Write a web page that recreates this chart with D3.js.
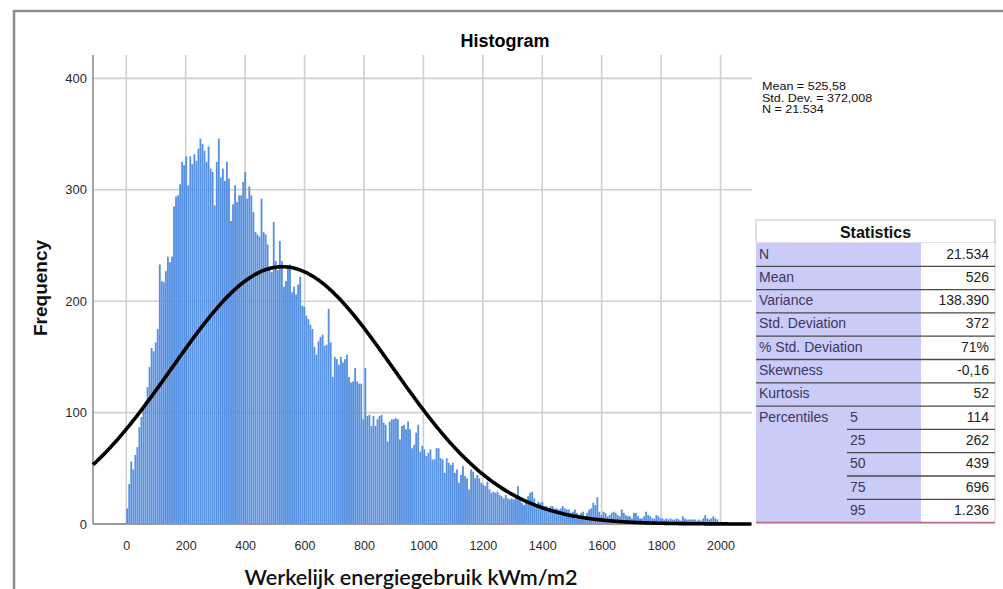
<!DOCTYPE html>
<html>
<head>
<meta charset="utf-8">
<script src="https://cdn.jsdelivr.net/npm/d3@7"></script>
<style>
  html, body { margin: 0; padding: 0; background: #fff; }
  svg { display: block; }
</style>
</head>
<body>
<script>
// ---------------- DATA ----------------
const binStart = 0;
const binWidth = 6.85;
// frequency of each bin
const counts = [
  14, 36, 56, 49, 62, 69, 87, 96, 104, 110, 123, 141, 158, 155, 163, 175, 233, 218, 217, 227,
  240, 235, 240, 285, 294, 295, 305, 325, 322, 330, 304, 330, 323, 332, 326, 337, 346, 341, 335, 325,
  339, 319, 316, 286, 325, 346, 311, 319, 308, 325, 310,
  272, 287, 304, 289, 295, 295, 307, 316, 292, 303, 295, 280, 262, 260, 258, 292, 262, 260, 251, 229,
  226, 271, 236, 228, 254, 236, 213, 218, 232, 233, 208, 213, 206, 215, 222, 196, 195, 187, 184, 179,
  175, 159, 152, 164, 168, 170, 160, 161, 193, 163, 132, 150, 148, 143, 150, 145, 148, 152, 132, 127,
  128, 140, 128, 126, 126, 94, 140, 97, 98, 88, 97, 88, 94, 97, 98, 91, 89, 74, 92, 94,
  94, 95, 94, 76, 88, 89, 85, 92, 85, 68, 71, 82, 89, 65, 70, 67, 61, 64, 67, 58,
  58, 68, 68, 59, 58, 46, 59, 55, 53, 55, 46, 49, 37, 44, 52, 43, 41, 31, 49, 47,
  41, 44, 41, 37, 35, 34, 38, 31, 28, 29, 28, 29, 26, 25, 23, 26, 23, 22, 23, 22,
  25, 34, 23, 19, 17, 20, 25, 28, 29, 23, 17, 20, 19, 20, 16, 16, 13, 16, 16, 14,
  14, 13, 14, 16, 14, 13, 13, 10, 11, 13, 10, 8, 10, 11, 7,
  10, 13, 14, 19, 17, 24, 11, 8, 11, 10, 7, 8, 10, 11, 10, 8, 7, 13, 10, 8,
  7, 7, 5, 10, 10, 7, 5, 5, 7, 11, 8, 7, 5, 5, 8, 7, 5, 5, 4, 5,
  4, 5, 4, 4, 5, 4, 3, 7, 5, 4, 4, 4, 4, 4, 3, 4, 3, 5, 8, 5,
  4, 5, 7, 5, 4
];
const xTicks = [0, 200, 400, 600, 800, 1000, 1200, 1400, 1600, 1800, 2000];
const yTicks = [0, 100, 200, 300, 400];
const xDomain = [-112, 2106];
const yDomain = [0, 421];

const mean = 525.58;
const stdDev = 372.008;
const nTotal = 21534;
const curveBinWidth = 10;
const legendLines = ["Mean = 525,58", "Std. Dev. = 372,008", "N = 21.534"];

const chartTitle = "Histogram";
const xTitle = "Werkelijk energiegebruik kWm/m2";
const yTitle = "Frequency";

const tableTitle = "Statistics";
const statLabels = ["N", "Mean", "Variance", "Std. Deviation", "% Std. Deviation", "Skewness", "Kurtosis"];
const statValues = ["21.534", "526", "138.390", "372", "71%", "-0,16", "52"];
const percentileTitle = "Percentiles";
const percentileLabels = ["5", "25", "50", "75", "95"];
const percentileValues = ["114", "262", "439", "696", "1.236"];

// ---------------- DRAW ----------------
const W = 1003, H = 589;
const svg = d3.select("body").append("svg").attr("width", W).attr("height", H);
const font = "'Liberation Sans', Arial, sans-serif";

// outer frame
svg.append("rect").attr("x", 14).attr("y", 11).attr("width", 1100).attr("height", 700)
  .attr("fill", "none").attr("stroke", "#8c8c8c").attr("stroke-width", 2.5);

const plot = { left: 93, right: 752, top: 55, bottom: 524 };
const x = d3.scaleLinear().domain(xDomain).range([plot.left, plot.right]);
const y = d3.scaleLinear().domain(yDomain).range([plot.bottom, plot.top]);

// gridlines
const grid = svg.append("g");
grid.selectAll("line.v").data(xTicks).join("line")
  .attr("x1", d => x(d)).attr("x2", d => x(d))
  .attr("y1", plot.top).attr("y2", plot.bottom)
  .attr("stroke", "#cfcfcf").attr("stroke-width", 1.6);
grid.selectAll("line.h").data(yTicks.filter(d => d > 0)).join("line")
  .attr("x1", plot.left).attr("x2", plot.right)
  .attr("y1", d => y(d)).attr("y2", d => y(d))
  .attr("stroke", "#cfcfcf").attr("stroke-width", 1.6);

// bars
svg.append("g").selectAll("rect").data(counts).join("rect")
  .attr("x", (d, i) => x(binStart + i * binWidth))
  .attr("width", (d, i) => x(binStart + (i + 1) * binWidth) - x(binStart + i * binWidth) - 0.2)
  .attr("y", d => y(d))
  .attr("height", d => y(0) - y(d))
  .attr("fill", "#5590e2");

// axes lines
svg.append("line").attr("x1", plot.left).attr("x2", plot.left)
  .attr("y1", plot.top).attr("y2", plot.bottom)
  .attr("stroke", "#9a9a9a").attr("stroke-width", 1.8);
svg.append("line").attr("x1", plot.left).attr("x2", plot.right)
  .attr("y1", plot.bottom).attr("y2", plot.bottom)
  .attr("stroke", "#9a9a9a").attr("stroke-width", 1.8);

// axis labels via d3 axes (domain/ticks hidden, only labels)
const xAxis = svg.append("g").attr("transform", `translate(0,${plot.bottom})`)
  .call(d3.axisBottom(x).tickValues(xTicks).tickSize(0).tickPadding(17).tickFormat(d3.format("d")));
xAxis.select(".domain").remove();
xAxis.selectAll("text").attr("font-family", font).attr("font-size", 12.5).attr("fill", "#2a2a2a");

const yAxis = svg.append("g").attr("transform", `translate(${plot.left},0)`)
  .call(d3.axisLeft(y).tickValues(yTicks).tickSize(0).tickPadding(6).tickFormat(d3.format("d")));
yAxis.select(".domain").remove();
yAxis.selectAll("text").attr("font-family", font).attr("font-size", 13).attr("fill", "#2a2a2a");

// normal curve
const curveScale = nTotal * curveBinWidth / (stdDev * Math.sqrt(2 * Math.PI));
const curvePts = d3.range(xDomain[0], xDomain[1] + 1, 4).map(v => [v, curveScale * Math.exp(-0.5 * Math.pow((v - mean) / stdDev, 2))]);
svg.append("path").datum(curvePts)
  .attr("d", d3.line().x(d => x(d[0])).y(d => y(d[1])))
  .attr("fill", "none").attr("stroke", "#000").attr("stroke-width", 3.6);

// title
svg.append("text").attr("x", 505).attr("y", 47).attr("text-anchor", "middle")
  .attr("font-family", font).attr("font-weight", "bold").attr("font-size", 18).text(chartTitle);

// axis titles
svg.append("text").attr("x", 411).attr("y", 585).attr("text-anchor", "middle")
  .attr("font-family", "Lato, 'Open Sans', sans-serif").attr("font-weight", 600).attr("font-size", 21)
  .attr("textLength", 333).attr("lengthAdjust", "spacingAndGlyphs")
  .attr("fill", "#111").text(xTitle);
svg.append("text").attr("transform", "translate(47,288) rotate(-90)").attr("text-anchor", "middle")
  .attr("font-family", font).attr("font-weight", "bold").attr("font-size", 19)
  .attr("fill", "#111").text(yTitle);

// legend (horizontally widened like the reference)
svg.append("g").selectAll("text").data(legendLines).join("text")
  .attr("x", 762).attr("y", (d, i) => 90 + i * 11.5)
  .attr("font-family", font).attr("font-size", 11).attr("fill", "#111").text(d => d)
  .each(function () {
    const len = this.getComputedTextLength();
    d3.select(this).attr("textLength", len * 1.14).attr("lengthAdjust", "spacingAndGlyphs");
  });

// ---------------- STATISTICS TABLE ----------------
const tL = 756, tR = 995, tLabR = 921, hdrTop = 220, rowTop = 243, rowH = 23.3;
const tbl = svg.append("g");
const nRows = statLabels.length + percentileLabels.length;
const tf = 14, tOff = 15.5;
// header
tbl.append("rect").attr("x", tL).attr("y", hdrTop).attr("width", tR - tL).attr("height", rowTop - hdrTop)
  .attr("fill", "#fff").attr("stroke", "#c4c4c4").attr("stroke-width", 1);
tbl.append("text").attr("x", (tL + tR) / 2).attr("y", 238).attr("text-anchor", "middle")
  .attr("font-family", font).attr("font-weight", "bold").attr("font-size", 16).attr("fill", "#111").text(tableTitle);
// body backgrounds
tbl.append("rect").attr("x", tL).attr("y", rowTop).attr("width", tLabR - tL).attr("height", nRows * rowH)
  .attr("fill", "#cbcbf7");
tbl.append("rect").attr("x", tLabR).attr("y", rowTop).attr("width", tR - tLabR).attr("height", nRows * rowH)
  .attr("fill", "#fff");
tbl.append("line").attr("x1", tR).attr("x2", tR).attr("y1", hdrTop).attr("y2", rowTop + nRows * rowH)
  .attr("stroke", "#d0d0d0").attr("stroke-width", 1);

// main rows
const mainRows = statLabels.map((l, i) => ({ label: l, value: statValues[i], i }));
tbl.selectAll("text.lab").data(mainRows).join("text").attr("class", "lab")
  .attr("x", tL + 3).attr("y", d => rowTop + d.i * rowH + tOff)
  .attr("font-family", font).attr("font-size", tf).attr("fill", "#383860").text(d => d.label);
tbl.selectAll("text.val").data(mainRows).join("text").attr("class", "val")
  .attr("x", tR - 6).attr("y", d => rowTop + d.i * rowH + tOff).attr("text-anchor", "end")
  .attr("font-family", font).attr("font-size", tf).attr("fill", "#1e1e1e").text(d => d.value);
tbl.selectAll("line.sep").data(mainRows).join("line").attr("class", "sep")
  .attr("x1", tL).attr("x2", tR)
  .attr("y1", d => rowTop + (d.i + 1) * rowH).attr("y2", d => rowTop + (d.i + 1) * rowH)
  .attr("stroke", "#4a4a4a").attr("stroke-width", 1.3);

// percentiles
const pRows = percentileLabels.map((l, i) => ({ label: l, value: percentileValues[i], i: statLabels.length + i, k: i }));
tbl.append("text").attr("x", tL + 3).attr("y", rowTop + statLabels.length * rowH + tOff)
  .attr("font-family", font).attr("font-size", tf).attr("fill", "#383860").text(percentileTitle);
tbl.selectAll("text.plab").data(pRows).join("text").attr("class", "plab")
  .attr("x", 850).attr("y", d => rowTop + d.i * rowH + tOff)
  .attr("font-family", font).attr("font-size", tf).attr("fill", "#383860").text(d => d.label);
tbl.selectAll("text.pval").data(pRows).join("text").attr("class", "pval")
  .attr("x", tR - 6).attr("y", d => rowTop + d.i * rowH + tOff).attr("text-anchor", "end")
  .attr("font-family", font).attr("font-size", tf).attr("fill", "#1e1e1e").text(d => d.value);
tbl.selectAll("line.psep").data(pRows.slice(0, -1)).join("line").attr("class", "psep")
  .attr("x1", 847).attr("x2", tR)
  .attr("y1", d => rowTop + (d.i + 1) * rowH).attr("y2", d => rowTop + (d.i + 1) * rowH)
  .attr("stroke", "#4a4a4a").attr("stroke-width", 1.3);
tbl.append("line").attr("x1", tL).attr("x2", tR)
  .attr("y1", rowTop + nRows * rowH).attr("y2", rowTop + nRows * rowH)
  .attr("stroke", "#b86a86").attr("stroke-width", 1.6);
</script>
</body>
</html>
